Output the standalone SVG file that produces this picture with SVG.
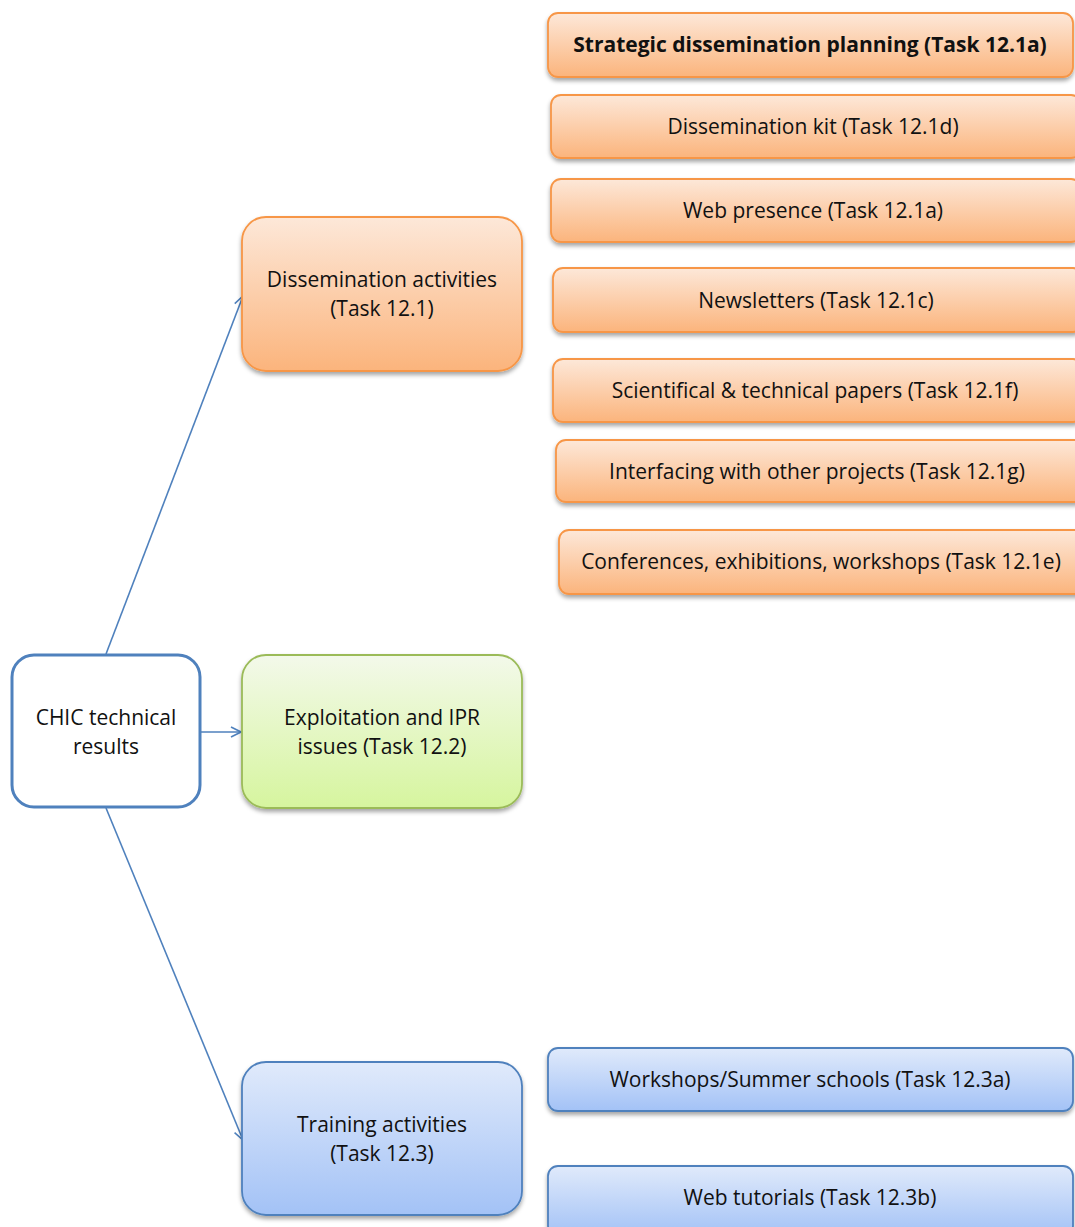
<svg xmlns="http://www.w3.org/2000/svg" width="1075" height="1227" viewBox="0 0 1075 1227">
<style>
text{font-family:"Open Sans","Liberation Sans",sans-serif;font-size:21px;fill:#111;text-anchor:middle;dominant-baseline:central}
.or{fill:url(#gOr);stroke:#f79646;stroke-width:1.8}
.gr{fill:url(#gGr);stroke:#9bbb59;stroke-width:1.8}
.bl{fill:url(#gBl);stroke:#4f81bd;stroke-width:1.8}
.sh{filter:url(#sh)}
.conn line{stroke:#4f81bd;stroke-width:1.6;fill:none;marker-end:url(#arr)}
</style>
<defs>
<linearGradient id="gOr" x1="0" y1="0" x2="0" y2="1"><stop offset="0" stop-color="#fde8d9"/><stop offset="1" stop-color="#fbb47c"/></linearGradient>
<linearGradient id="gGr" x1="0" y1="0" x2="0" y2="1"><stop offset="0" stop-color="#f3f9ea"/><stop offset="1" stop-color="#d6f59e"/></linearGradient>
<linearGradient id="gBl" x1="0" y1="0" x2="0" y2="1"><stop offset="0" stop-color="#e0eafb"/><stop offset="1" stop-color="#a3c2f6"/></linearGradient>
<filter id="sh" x="-5%" y="-10%" width="110%" height="130%"><feDropShadow dx="0" dy="3" stdDeviation="2" flood-color="#000" flood-opacity="0.35"/></filter>
<marker id="arr" viewBox="0 0 12 12" refX="11" refY="6" markerWidth="12" markerHeight="12" markerUnits="userSpaceOnUse" orient="auto"><path d="M1,1 L11,6 L1,11" fill="none" stroke="#4f81bd" stroke-width="1.6"/></marker>
</defs>
<rect width="1075" height="1227" fill="#fff"/>
<g class="conn">
<line x1="106" y1="654" x2="243" y2="296"/>
<line x1="200" y1="732" x2="241" y2="732"/>
<line x1="106" y1="808" x2="243" y2="1140"/>
</g>
<g id="chic"><rect x="12" y="655" width="188" height="152" rx="22" fill="#fff" stroke="#4f81bd" stroke-width="3"/><text x="106" y="717">CHIC technical</text><text x="106" y="746">results</text></g>
<g id="dissemination"><rect class="or sh" x="242" y="217" width="280" height="154" rx="24"/><text x="382" y="279">Dissemination activities</text><text x="382" y="308">(Task 12.1)</text></g>
<g id="exploitation"><rect class="gr sh" x="242" y="655" width="280" height="153" rx="24"/><text x="382" y="717">Exploitation and IPR</text><text x="382" y="746">issues (Task 12.2)</text></g>
<g id="training"><rect class="bl sh" x="242" y="1062" width="280" height="153" rx="24"/><text x="382" y="1124">Training activities</text><text x="382" y="1153">(Task 12.3)</text></g>
<g id="strategic"><rect class="or sh" x="548" y="13" width="525" height="64" rx="10"/><text x="810" y="44" font-weight="bold" font-size="19.3">Strategic dissemination planning (Task 12.1a)</text></g>
<g id="kit"><rect class="or sh" x="551" y="95" width="530" height="63" rx="10"/><text x="813" y="126">Dissemination kit (Task 12.1d)</text></g>
<g id="web"><rect class="or sh" x="551" y="179" width="530" height="63" rx="10"/><text x="813" y="210">Web presence (Task 12.1a)</text></g>
<g id="newsletters"><rect class="or sh" x="553" y="268" width="530" height="64" rx="10"/><text x="816" y="300">Newsletters (Task 12.1c)</text></g>
<g id="papers"><rect class="or sh" x="553" y="359" width="530" height="63" rx="10"/><text x="815" y="390">Scientifical &amp; technical papers (Task 12.1f)</text></g>
<g id="interfacing"><rect class="or sh" x="556" y="440" width="530" height="62" rx="10"/><text x="817" y="471">Interfacing with other projects (Task 12.1g)</text></g>
<g id="conferences"><rect class="or sh" x="559" y="530" width="530" height="64" rx="10"/><text x="821" y="561">Conferences, exhibitions, workshops (Task 12.1e)</text></g>
<g id="workshops"><rect class="bl sh" x="548" y="1048" width="525" height="63" rx="10"/><text x="810" y="1079">Workshops/Summer schools (Task 12.3a)</text></g>
<g id="tutorials"><rect class="bl sh" x="548" y="1166" width="525" height="70" rx="10"/><text x="810" y="1197">Web tutorials (Task 12.3b)</text></g>
</svg>
